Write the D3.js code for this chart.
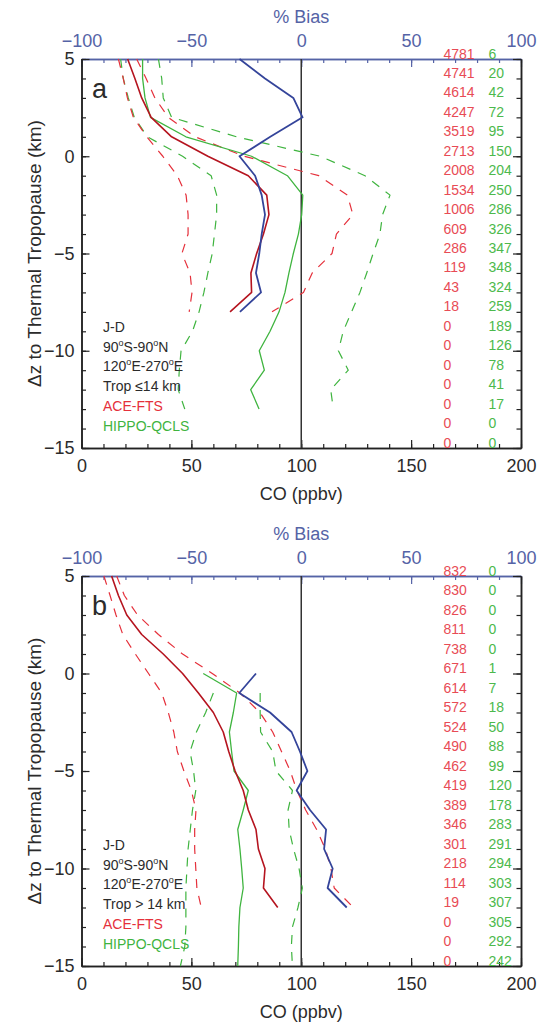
<!DOCTYPE html>
<html><head><meta charset="utf-8">
<script src="https://cdn.jsdelivr.net/npm/d3@7"></script>
<style>
html,body{margin:0;padding:0;background:#fff;}
svg{display:block;font-family:"Liberation Sans",Arial,Helvetica,sans-serif;}
</style></head>
<body>
<svg id="chart" width="542" height="1025"></svg>
<script>
// ---------- data ----------
const levels = [5,4,3,2,1,0,-1,-2,-3,-4,-5,-6,-7,-8,-9,-10,-11,-12,-13,-14,-15];

// Panel a (Trop <= 14 km)
const aceLevelsA   = [5,4,3,2,1,0,-1,-2,-3,-4,-5,-6,-7,-8];
const aceMeanA     = [21.0,24.3,27.4,31.7,41.0,57.5,75.9,84.3,85.3,82.8,79.7,77.1,77.4,67.6];
const aceLowA      = [16.8,19.0,20.9,23.6,29.7,37.0,43.6,47.6,48.5,48.5,45.7,49.4,50.3,49.0];
const aceHighA     = [25.1,29.4,33.4,39.5,51.7,74.0,108.0,121.0,123.5,116.0,114.0,105.0,101.0,86.7];
const hippoLevelsA = [5,4,3,2,1,0,-1,-2,-3,-4,-5,-6,-7,-8,-9,-10,-11,-12,-13];
const hippoMeanA   = [27.8,27.8,28.9,31.4,47.5,77.4,93.7,100.7,100.2,98.7,96.4,94.4,92.6,89.9,85.8,80.9,83.2,77.0,80.8];
const hippoLowA    = [17.8,19.0,21.3,24.0,30.0,46.0,59.0,61.5,61.5,60.5,59.5,57.5,55.7,53.5,50.5,45.3,44.5,44.0,47.0];
const hippoHighA   = [35.0,36.5,37.2,41.0,70.6,108.6,129.0,140.4,137.0,135.8,132.7,129.8,126.7,122.9,119.1,116.9,121.4,113.4,114.6];
const biasLevelsA  = [5,4,3,2,1,0,-1,-2,-3,-4,-5,-6,-7,-8];
const biasA        = [-28.1,-16.5,-3.6,0.6,-14.1,-28.1,-21.0,-18.0,-16.5,-18.0,-19.1,-20.6,-18.3,-27.9];
const aceCountA    = [4781,4741,4614,4247,3519,2713,2008,1534,1006,609,286,119,43,18,0,0,0,0,0,0,0];
const hippoCountA  = [6,20,42,72,95,150,204,250,286,326,347,348,324,259,189,126,78,41,17,0,0];
const legendA      = ["J-D","90°S-90°N","120°E-270°E","Trop ≤14 km"];

// Panel b (Trop > 14 km)
const aceLevelsB   = [5,4,3,2,1,0,-1,-2,-3,-4,-5,-6,-7,-8,-9,-10,-11,-12];
const aceMeanB     = [13.7,16.8,20.6,27.4,37.2,46.0,53.2,60.0,64.5,67.0,69.9,73.6,75.9,79.4,80.5,83.5,82.8,89.3];
const aceLowB      = [10.2,13.0,15.7,18.8,24.5,30.5,36.5,39.5,42.0,43.6,46.6,50.0,52.1,51.5,51.5,52.0,52.5,54.5];
const aceHighB     = [16.0,19.5,25.5,35.0,46.0,59.5,72.1,81.2,87.0,91.0,95.0,98.0,102.0,107.0,111.0,113.5,115.0,123.7];
const hippoLevelsB = [0,-1,-2,-3,-4,-5,-6,-7,-8,-9,-10,-11,-12,-13,-14,-15];
const hippoMeanB   = [55.4,70.6,69.1,67.3,68.3,69.4,75.9,73.6,71.1,72.1,72.9,73.6,72.1,71.6,71.4,71.1];
const hippoSdLevelsB = [-1,-2,-3,-4,-5,-6,-7,-8,-9,-10,-11,-12,-13,-14,-15];
const hippoLowB    = [60.0,56.5,52.3,49.4,51.0,52.0,50.5,49.5,48.5,48.0,47.5,47.5,47.5,47.0,45.0];
const hippoHighB   = [81.3,81.3,81.5,87.0,88.5,96.0,94.0,94.5,96.5,99.0,100.5,98.5,96.0,95.5,96.0];
const biasLevelsB  = [0,-1,-2,-3,-4,-5,-6,-7,-8,-9,-10,-11,-12];
const biasB        = [-20.6,-28.2,-14.2,-4.4,-0.6,2.8,-2.1,4.0,11.3,10.4,14.3,12.0,20.7];
const aceCountB    = [832,830,826,811,738,671,614,572,524,490,462,419,389,346,301,218,114,19,0,0,0];
const hippoCountB  = [0,0,0,0,0,1,7,18,50,88,99,120,178,283,291,294,303,307,305,292,242];
const legendB      = ["J-D","90°S-90°N","120°E-270°E","Trop > 14 km"];

const coMajorTicks   = [0,50,100,150,200];
const biasMajorTicks = [-100,-50,0,50,100];
const zMajorTicks    = [5,0,-5,-10,-15];

// ---------- style ----------
const C = {
  text:"#2b2b2b", axis:"#222", blueAxis:"#5563a6", blue:"#34449a",
  redSolid:"#b5141f", redDash:"#e5303b", green:"#3fb43f",
  redText:"#e84b55", greenText:"#4cb94c"
};

const svg = d3.select("#chart");
const X0 = 81.5, X1 = 521;

function zip(lv, vals){ return lv.map((z,i)=>({z:z, v:vals[i]})); }

function drawPanel(top, bottom, d, letter){
  const g = svg.append("g");
  const x = d3.scaleLinear().domain([0,200]).range([X0,X1]);
  const xb = d3.scaleLinear().domain([-100,100]).range([X0,X1]);
  const y = d3.scaleLinear().domain([5,-15]).range([top,bottom]);

  const minorX = d3.range(0,201,10), minorB = d3.range(-100,101,10), minorZ = d3.range(5,-16,-1);
  const axes = [
    {a:d3.axisBottom(x).tickValues(minorX).tickSize(-4).tickFormat(""), t:`translate(0,${bottom})`, c:C.axis},
    {a:d3.axisBottom(x).tickValues(coMajorTicks).tickSize(-8).tickPadding(11).tickFormat(d3.format("d")), t:`translate(0,${bottom})`, c:C.axis},
    {a:d3.axisTop(xb).tickValues(minorB).tickSize(-4).tickFormat(""), t:`translate(0,${top})`, c:C.blueAxis},
    {a:d3.axisTop(xb).tickValues(biasMajorTicks).tickSize(-8).tickPadding(12.5).tickFormat(d3.format("d")), t:`translate(0,${top})`, c:C.blueAxis},
    {a:d3.axisLeft(y).tickValues(minorZ).tickSize(-4.5).tickFormat(""), t:`translate(${X0},0)`, c:C.axis},
    {a:d3.axisLeft(y).tickValues(zMajorTicks).tickSize(-8).tickPadding(7).tickFormat(d3.format("d")), t:`translate(${X0},0)`, c:C.axis},
    {a:d3.axisRight(y).tickValues(minorZ).tickSize(-4.5).tickFormat(""), t:`translate(${X1},0)`, c:C.axis},
    {a:d3.axisRight(y).tickValues(zMajorTicks).tickSize(-8).tickFormat(""), t:`translate(${X1},0)`, c:C.axis}
  ];
  axes.forEach(o=>{
    const ag = g.append("g").attr("transform",o.t).call(o.a.tickSizeOuter(0));
    ag.select(".domain").attr("stroke",o.c).attr("stroke-width",1.5);
    ag.selectAll(".tick line").attr("stroke",o.c).attr("stroke-width",1.2);
    ag.selectAll(".tick text").attr("fill", o.c===C.blueAxis? C.blueAxis : C.text)
      .style("font-size","18px").style("font-family",'"Liberation Sans",Arial,sans-serif');
  });

  // axis titles
  g.append("text").attr("x",(X0+X1)/2).attr("y",top-36).attr("text-anchor","middle")
    .attr("fill",C.blueAxis).style("font-size","18px").text("% Bias");
  g.append("text").attr("x",(X0+X1)/2).attr("y",bottom+52).attr("text-anchor","middle")
    .attr("fill",C.text).style("font-size","18px").text("CO (ppbv)");
  g.append("text").attr("transform",`translate(41,${(top+bottom)/2}) rotate(-90)`)
    .attr("text-anchor","middle").attr("fill",C.text).style("font-size","19px")
    .text("Δz to Thermal Tropopause (km)");

  // zero-bias line
  g.append("line").attr("x1",x(100)).attr("x2",x(100)).attr("y1",top).attr("y2",bottom)
    .attr("stroke","#333").attr("stroke-width",1.5);

  const lineX = d3.line().x(p=>x(p.v)).y(p=>y(p.z));
  const lineB = d3.line().x(p=>xb(p.v)).y(p=>y(p.z));
  const dash = "9,8";
  const series = [
    {data:zip(d.hippoSdLevels,d.hippoLow), c:C.green, w:1.2, dash:dash, l:lineX},
    {data:zip(d.hippoSdLevels,d.hippoHigh), c:C.green, w:1.2, dash:dash, l:lineX},
    {data:zip(d.aceLevels,d.aceLow), c:C.redDash, w:1.2, dash:dash, l:lineX},
    {data:zip(d.aceLevels,d.aceHigh), c:C.redDash, w:1.2, dash:dash, l:lineX},
    {data:zip(d.hippoLevels,d.hippoMean), c:C.green, w:1.3, l:lineX},
    {data:zip(d.aceLevels,d.aceMean), c:C.redSolid, w:1.6, l:lineX},
    {data:zip(d.biasLevels,d.bias), c:C.blue, w:1.8, l:lineB}
  ];
  series.forEach(s=>{
    g.append("path").attr("d",s.l(s.data)).attr("fill","none").attr("stroke",s.c)
      .attr("stroke-width",s.w).attr("stroke-dasharray",s.dash||null)
      .attr("stroke-linejoin","round");
  });

  // counts
  levels.forEach((z,i)=>{
    g.append("text").attr("x",443.5).attr("y",y(z)-0.5).attr("fill",C.redText)
      .style("font-size","14px").text(d.aceCount[i]);
    g.append("text").attr("x",488.5).attr("y",y(z)-0.5).attr("fill",C.greenText)
      .style("font-size","14px").text(d.hippoCount[i]);
  });

  // panel letter
  g.append("text").attr("x",92).attr("y",top+39).attr("fill",C.text)
    .style("font-size","27px").text(letter);

  // legend
  const leg = d.legend.concat(["ACE-FTS","HIPPO-QCLS"]);
  const legCol = d.legend.map(()=>C.text).concat([C.redDash, C.green]);
  leg.forEach((s,i)=>{
    const t = g.append("text").attr("x",103).attr("y",bottom-116+i*19.7)
      .attr("fill",legCol[i]).style("font-size","14px");
    const parts = s.split("°");
    parts.forEach((p,j)=>{
      const sp = t.append("tspan").text(p);
      if(j>0) sp.attr("dy",6);
      if(j<parts.length-1){
        t.append("tspan").attr("dy",-6).style("font-size","9px").text("o");
      }
    });
  });
}

drawPanel(59, 448, {
  aceLevels:aceLevelsA, aceMean:aceMeanA, aceLow:aceLowA, aceHigh:aceHighA,
  hippoLevels:hippoLevelsA, hippoMean:hippoMeanA, hippoSdLevels:hippoLevelsA,
  hippoLow:hippoLowA, hippoHigh:hippoHighA,
  biasLevels:biasLevelsA, bias:biasA, aceCount:aceCountA, hippoCount:hippoCountA, legend:legendA
}, "a");

drawPanel(576, 966, {
  aceLevels:aceLevelsB, aceMean:aceMeanB, aceLow:aceLowB, aceHigh:aceHighB,
  hippoLevels:hippoLevelsB, hippoMean:hippoMeanB, hippoSdLevels:hippoSdLevelsB,
  hippoLow:hippoLowB, hippoHigh:hippoHighB,
  biasLevels:biasLevelsB, bias:biasB, aceCount:aceCountB, hippoCount:hippoCountB, legend:legendB
}, "b");
</script>
</body></html>
